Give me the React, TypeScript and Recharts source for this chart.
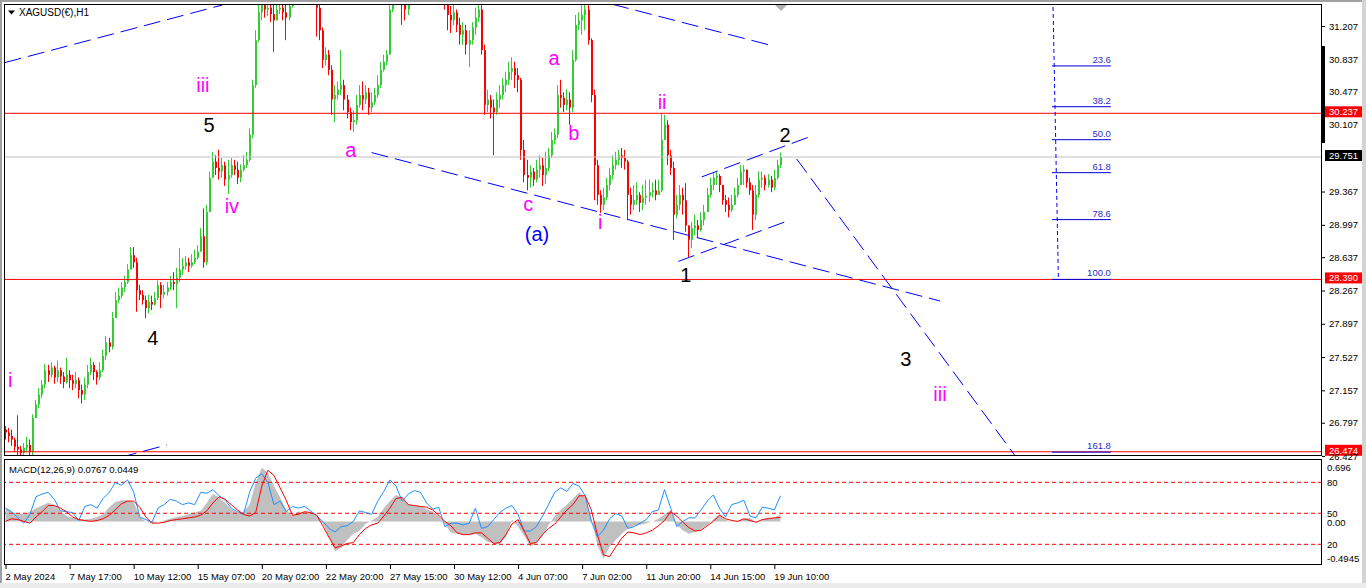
import React from "react";
import { ComposedChart, Bar, XAxis, YAxis, ReferenceLine, ReferenceDot, Area, Line } from "recharts";

const FONT = "'Liberation Sans', Arial, sans-serif";
const UP = "#32cd32";
const DOWN = "#ff0000";
const MAG = "#ff00ff";
const BLK = "#000000";
const BLUE = "#0000ff";

// XAGUSD(€) H1, one bar per three hours
const firstOpen = 26.72;
const closes = [
  26.69, 26.65, 26.61, 26.53, 26.5, 26.46, 26.52, 26.55, 26.47, 26.85,
  27.0, 27.11, 27.22, 27.38, 27.33, 27.41, 27.3, 27.38, 27.31, 27.25,
  27.33, 27.27, 27.23, 27.27, 27.16, 27.11, 27.22, 27.36, 27.44, 27.36,
  27.3, 27.38, 27.54, 27.69, 27.64, 27.96, 28.16, 28.21, 28.3, 28.36,
  28.5, 28.66, 28.58, 28.27, 28.22, 28.16, 28.07, 28.14, 28.11, 28.18,
  28.33, 28.22, 28.25, 28.3, 28.36, 28.34, 28.41, 28.5, 28.54, 28.58,
  28.54, 28.58, 28.63, 28.7, 28.87, 28.58, 29.14, 29.52, 29.7, 29.63,
  29.59, 29.66, 29.5, 29.55, 29.66, 29.61, 29.52, 29.61, 29.66, 29.72,
  30.0, 30.55, 31.05, 31.36, 31.44, 31.39, 31.41, 31.34, 31.27, 31.39,
  31.41, 31.36, 31.3, 31.43, 31.55, 31.63, 31.7, 31.66, 31.74, 31.7,
  31.63, 31.59, 31.41, 31.16, 30.83, 30.89, 30.72, 30.39, 30.44, 30.5,
  30.55, 30.39, 30.25, 30.14, 30.16, 30.33, 30.44, 30.39, 30.47, 30.3,
  30.36, 30.44, 30.55, 30.72, 30.81, 30.89, 31.39, 31.61, 31.66, 31.59,
  31.44, 31.39, 31.47, 31.59, 31.66, 31.74, 31.81, 31.78, 31.83, 31.78,
  31.72, 31.7, 31.63, 31.56, 31.47, 31.33, 31.27, 31.36, 31.22, 31.11,
  31.16, 31.0, 31.05, 31.19, 31.3, 31.39, 30.94, 30.33, 30.39, 30.3,
  30.25, 30.39, 30.44, 30.55, 30.61, 30.7, 30.74, 30.66, 30.61, 29.83,
  29.55, 29.52, 29.59, 29.5, 29.61, 29.66, 29.55, 29.63, 29.77, 29.94,
  30.0, 30.44, 30.41, 30.33, 30.39, 30.3, 30.83, 31.22, 31.27, 31.33,
  31.39, 31.05, 30.44, 29.66, 29.33, 29.22, 29.3, 29.44, 29.55, 29.66,
  29.72, 29.77, 29.74, 29.7, 29.33, 29.22, 29.27, 29.33, 29.24, 29.3,
  29.32, 29.36, 29.38, 29.33, 29.38, 29.94, 30.11, 29.77, 29.63, 29.11,
  29.22, 29.33, 29.27, 28.99, 28.83, 28.96, 28.99, 28.94, 29.05, 29.14,
  29.33, 29.44, 29.52, 29.54, 29.44, 29.27, 29.22, 29.16, 29.22, 29.33,
  29.44, 29.59, 29.61, 29.47, 29.38, 29.11, 29.33, 29.5, 29.52, 29.44,
  29.5, 29.41, 29.52, 29.66, 29.751,
];
const highs = [
  26.76, 26.74, 26.72, 26.63, 26.88, 26.54, 26.57, 26.64, 26.61, 26.89,
  27.05, 27.18, 27.27, 27.45, 27.44, 27.47, 27.43, 27.49, 27.41, 27.36,
  27.52, 27.38, 27.33, 27.36, 27.3, 27.22, 27.3, 27.44, 27.52, 27.47,
  27.38, 27.47, 27.61, 27.76, 27.74, 28.03, 28.25, 28.3, 28.36, 28.43,
  28.56, 28.75, 28.75, 28.63, 28.33, 28.27, 28.21, 28.22, 28.21, 28.25,
  28.38, 28.36, 28.33, 28.36, 28.43, 28.47, 28.52, 28.74, 28.63, 28.65,
  28.63, 28.67, 28.72, 28.77, 28.96, 29.18, 29.22, 29.59, 29.81, 29.77,
  29.83, 29.74, 29.7, 29.72, 29.74, 29.72, 29.7, 29.67, 29.77, 29.81,
  30.07, 30.61, 31.16, 31.47, 31.61, 31.55, 31.59, 31.52, 31.47, 31.56,
  31.61, 31.54, 31.5, 31.61, 31.66, 31.74, 31.81, 31.78, 31.85, 31.81,
  31.74, 31.7, 31.61, 31.44, 31.19, 30.97, 30.94, 30.77, 30.55, 30.59,
  30.94, 30.61, 30.44, 30.3, 30.27, 30.44, 30.55, 30.59, 30.55, 30.52,
  30.47, 30.52, 30.66, 30.81, 30.89, 30.94, 31.55, 31.72, 31.78, 31.72,
  31.61, 31.52, 31.59, 31.7, 31.78, 31.85, 31.92, 31.89, 31.94, 31.89,
  31.83, 31.81, 31.74, 31.68, 31.59, 31.45, 31.43, 31.45, 31.39, 31.3,
  31.25, 31.22, 31.16, 31.25, 31.41, 31.47, 31.44, 31.0, 30.5, 30.44,
  30.39, 30.47, 30.55, 30.63, 30.7, 30.81, 30.86, 30.81, 30.74, 30.63,
  29.94, 29.72, 29.66, 29.63, 29.72, 29.77, 29.74, 29.81, 29.85, 30.03,
  30.07, 30.55, 30.61, 30.47, 30.5, 30.47, 30.94, 31.33, 31.36, 31.44,
  31.52, 31.44, 31.07, 30.5, 29.72, 29.38, 29.41, 29.52, 29.63, 29.77,
  29.81, 29.83, 29.85, 29.83, 29.72, 29.41, 29.44, 29.47, 29.36, 29.44,
  29.5, 29.5, 29.47, 29.5, 29.5, 30.24, 30.22, 30.16, 29.83, 29.7,
  29.33, 29.44, 29.41, 29.46, 28.99, 29.03, 29.11, 29.05, 29.14, 29.22,
  29.41, 29.52, 29.57, 29.59, 29.56, 29.44, 29.33, 29.3, 29.33, 29.41,
  29.52, 29.66, 29.66, 29.61, 29.52, 29.44, 29.44, 29.59, 29.59, 29.55,
  29.56, 29.54, 29.61, 29.72, 29.8,
];
const lows = [
  26.61, 26.58, 26.54, 26.47, 26.43, 26.41, 26.42, 26.47, 26.41, 26.43,
  26.85, 26.96, 27.07, 27.18, 27.25, 27.3, 27.23, 27.25, 27.23, 27.18,
  27.23, 27.18, 27.16, 27.18, 27.07, 27.01, 27.05, 27.18, 27.33, 27.27,
  27.22, 27.27, 27.36, 27.49, 27.58, 27.61, 27.96, 28.13, 28.18, 28.25,
  28.34, 28.5, 28.52, 28.03, 28.16, 28.11, 27.96, 28.01, 28.05, 28.1,
  28.16, 28.07, 28.18, 28.21, 28.27, 28.27, 28.07, 28.36, 28.44, 28.5,
  28.47, 28.52, 28.56, 28.61, 28.72, 28.52, 28.55, 29.14, 29.52, 29.55,
  29.5, 29.52, 29.43, 29.34, 29.52, 29.55, 29.45, 29.47, 29.59, 29.63,
  29.7, 29.96, 30.52, 31.03, 31.27, 31.3, 31.32, 31.25, 30.92, 31.3,
  31.34, 31.27, 31.05, 31.27, 31.41, 31.52, 31.59, 31.55, 31.61, 31.59,
  31.53, 31.52, 31.09, 31.05, 30.74, 30.77, 30.66, 30.22, 30.14, 30.39,
  30.44, 30.27, 30.18, 30.05, 30.03, 30.11, 30.3, 30.27, 30.34, 30.22,
  30.25, 30.33, 30.41, 30.52, 30.7, 30.77, 30.89, 31.36, 31.55, 31.5,
  31.22, 31.27, 31.33, 31.47, 31.55, 31.63, 31.7, 31.66, 31.72, 31.66,
  31.63, 31.59, 31.54, 31.5, 31.39, 31.16, 31.13, 31.22, 31.14, 31.0,
  31.0, 30.89, 30.75, 31.0, 31.11, 31.25, 30.89, 30.22, 30.25, 30.18,
  29.77, 30.22, 30.3, 30.39, 30.47, 30.55, 30.61, 30.52, 30.47, 29.72,
  29.47, 29.38, 29.41, 29.43, 29.47, 29.52, 29.43, 29.45, 29.59, 29.74,
  29.89, 29.96, 30.3, 30.25, 30.27, 30.11, 30.25, 30.81, 31.16, 31.11,
  31.16, 31.0, 30.36, 29.27, 29.22, 29.13, 29.16, 29.27, 29.38, 29.5,
  29.61, 29.66, 29.63, 29.61, 29.05, 29.11, 29.16, 29.22, 29.14, 29.16,
  29.22, 29.25, 29.3, 29.27, 29.33, 29.36, 29.94, 29.66, 29.55, 28.83,
  29.07, 29.16, 29.11, 28.92, 28.64, 28.74, 28.88, 28.85, 28.92, 28.99,
  29.16, 29.3, 29.38, 29.44, 29.36, 29.22, 29.14, 29.08, 29.14, 29.22,
  29.3, 29.47, 29.44, 29.41, 29.33, 28.94, 29.05, 29.3, 29.41, 29.38,
  29.41, 29.36, 29.38, 29.5, 29.63,
];

// MACD(12,26,9) sampled every second bar
const macdMain = [
  0.15, 0.11, 0.09, 0.08, 0.11, 0.15, 0.18, 0.21, 0.19, 0.12,
  0.06, 0.04, 0.03, 0.02, 0.03, 0.05, 0.08, 0.16, 0.22, 0.24,
  0.24, 0.22, 0.05, 0.0, -0.02, 0.0, 0.01, 0.03, 0.05, 0.06,
  0.08, 0.1, 0.12, 0.21, 0.31, 0.27, 0.21, 0.14, 0.1, 0.11,
  0.19, 0.44, 0.61, 0.55, 0.4, 0.27, 0.13, 0.06, 0.11, 0.11,
  0.1, 0.05, -0.02, -0.17, -0.34, -0.3, -0.21, -0.14, -0.11, -0.03,
  0.01, 0.05, 0.15, 0.23, 0.3, 0.27, 0.19, 0.18, 0.17, 0.14,
  0.11, 0.06, -0.03, -0.13, -0.14, -0.15, -0.15, -0.14, -0.18, -0.23,
  -0.25, -0.26, -0.18, 0.02, -0.06, -0.16, -0.29, -0.24, -0.17, -0.04,
  0.06, 0.13, 0.19, 0.26, 0.33, 0.27, 0.04, -0.27, -0.42, -0.29,
  -0.21, -0.14, -0.08, -0.05, -0.04, -0.02, 0.0, 0.03, 0.08, 0.13,
  -0.04, -0.1, -0.14, -0.12, -0.09, -0.04, 0.02, 0.08, 0.02, -0.01,
  0.01, 0.03, 0.04, -0.01, 0.02, 0.04, 0.04, 0.0767,
];
const macdSignal = [
  0.0, 0.03, 0.02, 0.0, -0.02, 0.05, 0.11, 0.18, 0.18, 0.15,
  0.11, 0.05, 0.02, 0.01, 0.0, 0.01, 0.03, 0.07, 0.13, 0.2,
  0.23, 0.23, 0.16, 0.05, -0.02, -0.02, -0.01, 0.01, 0.02, 0.03,
  0.04, 0.05, 0.07, 0.12, 0.21, 0.28, 0.25, 0.19, 0.13, 0.08,
  0.06, 0.1, 0.4, 0.58, 0.52, 0.38, 0.24, 0.07, 0.08, 0.11,
  0.1, 0.07, -0.05, -0.18, -0.3, -0.28, -0.25, -0.24, -0.15, -0.08,
  -0.04, -0.02, 0.06, 0.15, 0.26, 0.27, 0.19, 0.18, 0.17, 0.16,
  0.13, 0.07, 0.0, -0.05, -0.13, -0.15, -0.15, -0.13, -0.13, -0.19,
  -0.25, -0.24, -0.15, -0.03, 0.02, -0.11, -0.25, -0.24, -0.15, -0.08,
  -0.03, 0.05, 0.13, 0.19, 0.29, 0.29, 0.13, -0.15, -0.38, -0.4,
  -0.29, -0.19, -0.12, -0.13, -0.15, -0.13, -0.1, -0.05, 0.01, 0.11,
  0.06, -0.01, -0.07, -0.11, -0.1, -0.05, 0.0, 0.07, 0.03, 0.01,
  0.0, 0.03, 0.01, -0.01, 0.02, 0.03, 0.04, 0.0449,
];
const macdFast = [
  0.15, 0.11, 0.04, -0.02, 0.08, 0.28, 0.31, 0.33, 0.25, 0.12,
  0.11, 0.1, 0.01, 0.17, 0.19, 0.15, 0.26, 0.33, 0.44, 0.41,
  0.47, 0.33, 0.05, 0.02, -0.01, 0.15, 0.19, 0.25, 0.23, 0.19,
  0.21, 0.19, 0.33, 0.32, 0.36, 0.29, 0.24, 0.15, 0.11, 0.08,
  0.33, 0.49, 0.54, 0.44, 0.19, 0.23, 0.11, 0.17, 0.15, 0.17,
  0.12, 0.06, 0.0, -0.08, -0.12, -0.06, -0.05, 0.0, 0.12, 0.1,
  0.08, 0.23, 0.34, 0.47, 0.4, 0.23, 0.31, 0.35, 0.33, 0.21,
  0.14, 0.16, -0.06, -0.02, -0.02, -0.04, -0.02, 0.15, -0.08, -0.06,
  0.02, 0.1, 0.15, 0.18, 0.08, -0.11, -0.11, -0.06, 0.06, 0.19,
  0.33, 0.38, 0.34, 0.43, 0.4, 0.29, 0.0, -0.17, -0.1, 0.03,
  0.09, 0.06, -0.08, -0.06, -0.02, 0.02, 0.11, 0.13, 0.36, 0.15,
  -0.06, 0.0, 0.04, 0.04, 0.13, 0.23, 0.3, 0.15, 0.05, 0.19,
  0.21, 0.24, 0.06, 0.04, 0.16, 0.15, 0.13, 0.29,
];

const dateLabels = [
  "2 May 2024", "7 May 17:00", "10 May 12:00", "15 May 07:00", "20 May 02:00",
  "22 May 20:00", "27 May 15:00", "30 May 12:00", "4 Jun 07:00", "7 Jun 02:00",
  "11 Jun 20:00", "14 Jun 15:00", "19 Jun 10:00",
];
const priceTicks = [
  31.207, 30.837, 30.477, 30.107, 29.367, 28.997, 28.637, 28.267,
  27.897, 27.527, 27.157, 26.797, 26.427,
];
const macdTicks = [0.696, 0.443, 0.092, 0, -0.26, -0.4945];
const macdTickLabels = ["0.696", "80", "50", "0.00", "20", "-0.4945"];
const macdLevels = [0.443, 0.092, -0.26];

const hLines = [
  { price: 29.751, stroke: "#c0c0c0", bg: "#000000" },
  { price: 30.237, stroke: "#ff0000", bg: "#ff0000" },
  { price: 28.39, stroke: "#ff0000", bg: "#ff0000" },
  { price: 26.474, stroke: "#ff0000", bg: "#ff0000" },
];

const fibHigh = 31.497;
const fibLow = 28.39;
const fibLevels = [23.6, 38.2, 50.0, 61.8, 78.6, 100.0, 161.8];

// [bar1, price1, bar2, price2]
const trendLines = [
  [-0.3, 30.8, 71.0, 31.44],
  [37.5, 26.41, 52.9, 26.55],
  [120.0, 29.8, 306.3, 28.15],
  [198.8, 31.45, 250.0, 31.0],
  [228.2, 29.53, 263.1, 29.97],
  [220.5, 28.59, 255.5, 29.03],
  [259.3, 29.73, 330.9, 26.43],
];

const waveLabels = [
  { t: "i", x: 1.5, p: 27.27, c: MAG },
  { t: "4", x: 48.3, p: 27.74, c: BLK },
  { t: "iii", x: 64.7, p: 30.55, c: MAG },
  { t: "5", x: 66.7, p: 30.11, c: BLK },
  { t: "iv", x: 74.2, p: 29.21, c: MAG },
  { t: "a", x: 113.2, p: 29.83, c: MAG },
  { t: "c", x: 171.3, p: 29.23, c: MAG },
  { t: "(a)", x: 174.2, p: 28.89, c: BLUE },
  { t: "a", x: 179.8, p: 30.85, c: MAG },
  { t: "b", x: 186.3, p: 30.02, c: MAG },
  { t: "i", x: 194.9, p: 29.03, c: MAG },
  { t: "ii", x: 215.2, p: 30.36, c: MAG },
  { t: "1", x: 223.0, p: 28.44, c: BLK },
  { t: "2", x: 255.5, p: 30.0, c: BLK },
  { t: "3", x: 295.1, p: 27.5, c: BLK },
  { t: "iii", x: 306.3, p: 27.12, c: MAG },
];

const SLOTS = 432; // bars plus the empty shift area on the right
const LABEL_STEP = 21;
const X_DOMAIN = [-0.5, SLOTS - 0.5];

const candleRows = Array.from({ length: SLOTS }, (_, i) => {
  if (i >= closes.length) return { i };
  const o = i === 0 ? firstOpen : closes[i - 1];
  const c = closes[i];
  return { i, o, c, h: Math.max(highs[i], o, c), l: Math.min(lows[i], o, c) };
});

const macdRows = macdMain.map((m, k) => ({ x: k * 2, main: m, signal: macdSignal[k], fast: macdFast[k] }));
const dateTicks = dateLabels.map((_, j) => j * LABEL_STEP);

function Candle(props: any) {
  const { x, y, width, height, payload } = props;
  if (!payload || payload.c == null || !isFinite(y) || !isFinite(height)) return null;
  const top = Math.min(y, y + height);
  const bot = Math.max(y, y + height);
  const span = payload.h - payload.l;
  const toPx = (v: number) => (span > 0 ? top + ((payload.h - v) / span) * (bot - top) : top);
  const cx = Math.floor(x + width / 2);
  const color = payload.c > payload.o ? UP : payload.c < payload.o ? DOWN : BLK;
  const b1 = toPx(Math.max(payload.o, payload.c));
  const b2 = toPx(Math.min(payload.o, payload.c));
  return (
    <g>
      <line x1={cx + 0.5} x2={cx + 0.5} y1={top} y2={bot} stroke={color} strokeWidth={1} />
      <rect x={cx} y={b1} width={2} height={Math.max(1, b2 - b1)} fill={color} />
    </g>
  );
}

function PriceTick(props: any) {
  const { x, y, payload } = props;
  return (
    <g>
      <line x1={x} x2={x + 3} y1={y + 0.5} y2={y + 0.5} stroke="#000" />
      <text x={x + 7} y={y} dy={3.5} fontSize={9.5} fontFamily={FONT} fill="#000">
        {Number(payload.value).toFixed(3)}
      </text>
    </g>
  );
}

function MacdTick(props: any) {
  const { x, y, payload } = props;
  const idx = macdTicks.indexOf(payload.value);
  const dy = idx === 0 ? 7 : idx === macdTicks.length - 1 ? -7 : payload.value === 0 ? 1 : 0;
  return (
    <text x={x + 5} y={y + dy} dy={3.5} fontSize={9.5} fontFamily={FONT} fill="#000">
      {macdTickLabels[idx] ?? ""}
    </text>
  );
}

function DateTick(props: any) {
  const { x, y, payload } = props;
  const label = dateLabels[Math.round(payload.value / LABEL_STEP)];
  return (
    <g>
      <line x1={x + 0.5} x2={x + 0.5} y1={y} y2={y + 4} stroke="#000" />
      <text x={x} y={y + 15} fontSize={9.5} fontFamily={FONT} fill="#000" textAnchor="start">
        {label}
      </text>
    </g>
  );
}

// price tag on the axis, sits slightly above its line
function PriceBox(props: any) {
  const { viewBox, text, bg } = props;
  if (!viewBox) return null;
  const bx = viewBox.x + viewBox.width + 3;
  const by = viewBox.y;
  return (
    <g>
      <rect x={bx} y={by - 7} width={37} height={11} fill={bg} />
      <text x={bx + 4} y={by - 1.5} dy={3.5} fill="#fff" fontSize={9.5} fontFamily={FONT}>
        {text}
      </text>
    </g>
  );
}

function FibText(props: any) {
  const { viewBox, text } = props;
  if (!viewBox) return null;
  return (
    <text x={viewBox.x + viewBox.width} y={viewBox.y - 3} textAnchor="end" fontSize={9.5} fontFamily={FONT} fill="#2a2ad0">
      {text}
    </text>
  );
}

function WaveText(props: any) {
  const { viewBox, text, color } = props;
  if (!viewBox) return null;
  const cx = viewBox.x + (viewBox.width || 0) / 2;
  const cy = viewBox.y + (viewBox.height || 0) / 2;
  return (
    <text x={cx} y={cy} textAnchor="middle" dominantBaseline="central" fill={color} fontSize={20} fontFamily={FONT}>
      {text}
    </text>
  );
}

export default function App() {
  return (
    <div style={{ position: "absolute", left: 0, top: 0, width: 1366, height: 588, background: "#fff", overflow: "hidden" }}>
      <div style={{ position: "absolute", left: 0, top: 0 }}>
        <ComposedChart width={1366} height={460} data={candleRows} margin={{ top: 4, right: 0, left: 4, bottom: 4 }}>
          <XAxis dataKey="i" hide />
          <XAxis xAxisId="n" type="number" dataKey="i" domain={X_DOMAIN} allowDataOverflow hide />
          <YAxis
            orientation="right"
            width={44}
            domain={[26.427, 31.452]}
            allowDataOverflow
            ticks={priceTicks}
            interval={0}
            axisLine={false}
            tickLine={false}
            tickSize={0}
            tickMargin={0}
            tick={<PriceTick />}
          />
          <Bar
            dataKey={(d: any) => (d.c == null ? null : [d.l, d.h])}
            shape={(p: any) => <Candle {...p} />}
            isAnimationActive={false}
          />
          {hLines.map((h) => (
            <ReferenceLine
              key={h.price}
              y={h.price}
              stroke={h.stroke}
              strokeWidth={1}
              ifOverflow="visible"
              label={<PriceBox text={h.price.toFixed(3)} bg={h.bg} />}
            />
          ))}
          {trendLines.map((t, n) => (
            <ReferenceLine
              key={"t" + n}
              xAxisId="n"
              segment={[{ x: t[0], y: t[1] }, { x: t[2], y: t[3] }]}
              stroke={BLUE}
              strokeDasharray="17 7"
              ifOverflow="hidden"
            />
          ))}
          <ReferenceLine
            xAxisId="n"
            segment={[{ x: 343.3, y: fibHigh }, { x: 345.1, y: fibLow }]}
            stroke={BLUE}
            strokeDasharray="4 3"
            ifOverflow="hidden"
          />
          {fibLevels.map((lv) => {
            const price = fibHigh - ((fibHigh - fibLow) * lv) / 100;
            return (
              <ReferenceLine
                key={"f" + lv}
                xAxisId="n"
                segment={[{ x: 343.0, y: price }, { x: 362.3, y: price }]}
                stroke="#0000dd"
                strokeWidth={1}
                ifOverflow="visible"
                label={<FibText text={lv.toFixed(1)} />}
              />
            );
          })}
          {waveLabels.map((w, n) => (
            <ReferenceDot
              key={"w" + n}
              xAxisId="n"
              x={w.x}
              y={w.p}
              r={0}
              fill="none"
              stroke="none"
              ifOverflow="visible"
              label={<WaveText text={w.t} color={w.c} />}
            />
          ))}
        </ComposedChart>
      </div>

      <div style={{ position: "absolute", left: 0, top: 456 }}>
        <ComposedChart width={1366} height={132} data={macdRows} margin={{ top: 4, right: 0, left: 4, bottom: 0 }}>
          <XAxis
            type="number"
            dataKey="x"
            domain={X_DOMAIN}
            allowDataOverflow
            ticks={dateTicks}
            interval={0}
            height={23}
            axisLine={false}
            tickLine={false}
            tickSize={0}
            tickMargin={0}
            tick={<DateTick />}
          />
          <YAxis
            orientation="right"
            width={44}
            domain={[-0.4945, 0.696]}
            allowDataOverflow
            ticks={macdTicks}
            interval={0}
            axisLine={false}
            tickLine={false}
            tickSize={0}
            tickMargin={0}
            tick={<MacdTick />}
          />
          <Area type="linear" dataKey="main" fill="#c0c0c0" fillOpacity={1} stroke="none" baseValue={0} isAnimationActive={false} />
          {macdLevels.map((v) => (
            <ReferenceLine key={v} y={v} stroke="#ff0000" strokeDasharray="4 3" ifOverflow="visible" />
          ))}
          <Line type="linear" dataKey="fast" stroke="#1e90ff" strokeWidth={1} dot={false} isAnimationActive={false} />
          <Line type="linear" dataKey="signal" stroke="#ff0000" strokeWidth={1} dot={false} isAnimationActive={false} />
        </ComposedChart>
      </div>

      <svg width={1366} height={588} style={{ position: "absolute", left: 0, top: 0, pointerEvents: "none" }}>
        <rect x={0} y={0} width={1366} height={2} fill="#a0a0a0" />
        <rect x={0} y={0} width={2} height={588} fill="#a0a0a0" />
        <rect x={1362} y={0} width={4} height={588} fill="#d4d4d4" />
        <rect x={0} y={583} width={1366} height={5} fill="#ececec" />
        <rect x={4.5} y={4.5} width={1317} height={451} fill="none" stroke="#000" />
        <rect x={4.5} y={459.5} width={1317} height={105} fill="none" stroke="#000" />
        <rect x={1322} y={46} width={3} height={97} fill="#000" />
        <polygon points="775,5 787,5 781,11" fill="#b0b0b0" />
        <polygon points="8,10.5 15,10.5 11.5,14.5" fill="#000" />
        <text x={19} y={16} fontSize={10} fontFamily={FONT} fill="#000">XAGUSD(€),H1</text>
        <text x={9} y={472.5} fontSize={9.5} fontFamily={FONT} fill="#000">MACD(12,26,9) 0.0767 0.0449</text>
      </svg>
    </div>
  );
}
